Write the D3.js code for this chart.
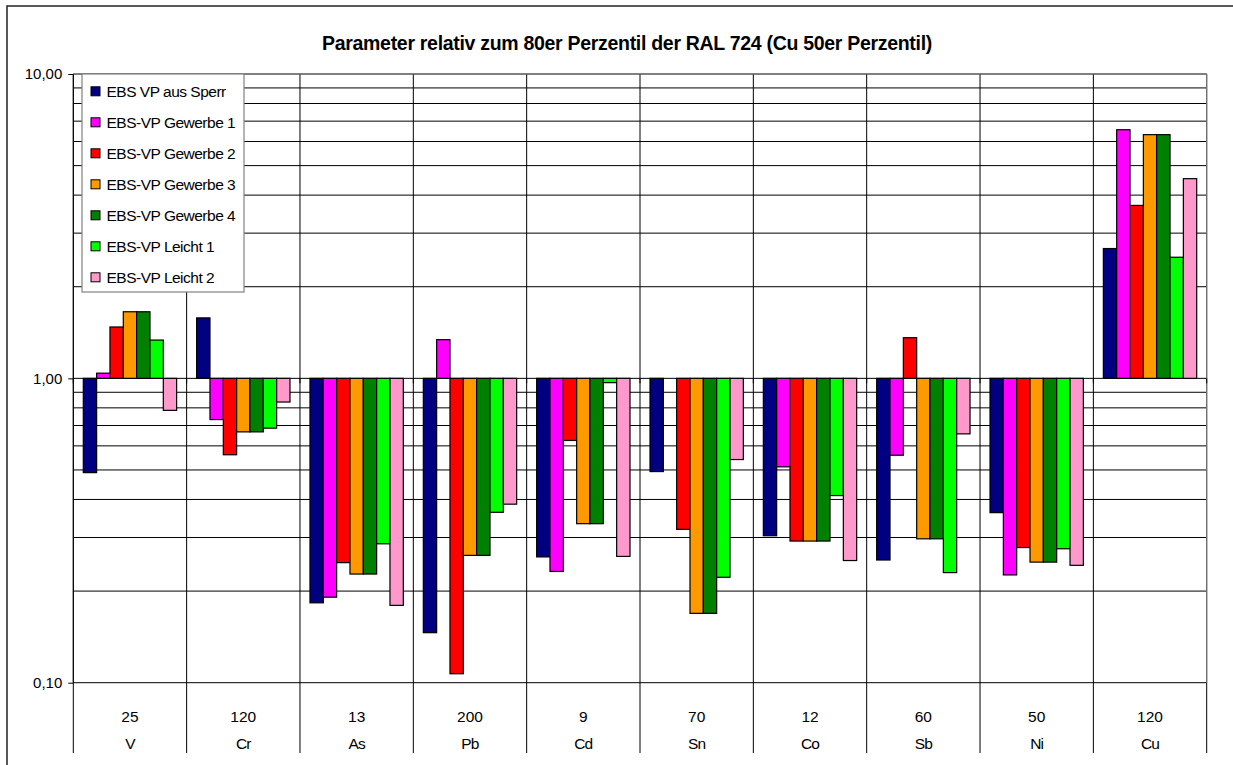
<!DOCTYPE html>
<html>
<head>
<meta charset="utf-8">
<script src="https://cdn.jsdelivr.net/npm/d3@7"></script>
<style>
  html, body { margin: 0; padding: 0; background: #fff; }
  svg { display: block; font-family: "Liberation Sans", Arial, sans-serif; }
</style>
</head>
<body>
<svg id="chart" width="1233" height="765"></svg>
<script>
// Elements and their reference limits (80th percentile, Cu: 50th percentile)
const categories = ["V", "Cr", "As", "Pb", "Cd", "Sn", "Co", "Sb", "Ni", "Cu"];
const limits = ["25", "120", "13", "200", "9", "70", "12", "60", "50", "120"];

const seriesNames = [
  "EBS VP aus Sperr",
  "EBS-VP Gewerbe 1",
  "EBS-VP Gewerbe 2",
  "EBS-VP Gewerbe 3",
  "EBS-VP Gewerbe 4",
  "EBS-VP Leicht 1",
  "EBS-VP Leicht 2"
];
const seriesColors = ["#000080", "#FF00FF", "#FF0000", "#FF9900", "#008000", "#00FF00", "#FF99CC"];

// Ratios of measured value to the reference limit, per element
const ausSperr  = [0.49, 1.58, 0.183, 0.146, 0.259, 0.494, 0.304, 0.253, 0.362, 2.67];
const gewerbe1  = [1.04, 0.732, 0.191, 1.34, 0.232, null, 0.512, 0.559, 0.226, 6.56];
const gewerbe2  = [1.475, 0.561, 0.248, 0.107, 0.625, 0.319, 0.292, 1.36, 0.278, 3.70];
const gewerbe3  = [1.655, 0.667, 0.2275, 0.262, 0.333, 0.169, 0.292, 0.297, 0.249, 6.32];
const gewerbe4  = [1.655, 0.667, 0.2275, 0.262, 0.333, 0.169, 0.292, 0.297, 0.249, 6.32];
const leicht1   = [1.336, 0.686, 0.286, 0.363, 0.968, 0.222, 0.412, 0.230, 0.2755, 2.50];
const leicht2   = [0.785, 0.836, 0.1795, 0.386, 0.26, 0.541, 0.252, 0.657, 0.243, 4.53];

const seriesValues = [ausSperr, gewerbe1, gewerbe2, gewerbe3, gewerbe4, leicht1, leicht2];

const yTickValues = [0.1, 1, 10];
const yTickLabels = ["0,10", "1,00", "10,00"];
const baseline = 1;

const svg = d3.select("#chart");

// Outer chart frame
svg.append("rect")
  .attr("x", 7).attr("y", 6)
  .attr("width", 1300).attr("height", 900)
  .attr("fill", "#fff")
  .attr("stroke", "#222").attr("stroke-width", 1.5);

const plot = { left: 73.3, right: 1206.7, top: 74, bottom: 682.7 };

const x = d3.scaleBand()
  .domain(categories)
  .range([plot.left, plot.right])
  .paddingInner(0).paddingOuter(0);

const xs = d3.scaleBand()
  .domain(d3.range(seriesNames.length))
  .range([0, x.bandwidth()])
  .paddingInner(0).paddingOuter(0.75);

const y = d3.scaleLog()
  .domain([0.1, 10])
  .range([plot.bottom, plot.top]);

// Horizontal gridlines: every integer multiple within each decade
const gridValues = [];
[0.1, 1].forEach(d => { for (let k = 1; k <= 10; k++) gridValues.push(+(d * k).toFixed(3)); });
const gridUnique = Array.from(new Set(gridValues));

svg.append("g")
  .selectAll("line")
  .data(gridUnique)
  .join("line")
  .attr("x1", plot.left).attr("x2", plot.right)
  .attr("y1", d => y(d)).attr("y2", d => y(d))
  .attr("stroke", "#000").attr("stroke-width", 1);

// Category boundaries, running down through the label rows
const boundaries = categories.map(c => x(c)).concat([plot.right]);
svg.append("g")
  .selectAll("line")
  .data(boundaries)
  .join("line")
  .attr("x1", d => d).attr("x2", d => d)
  .attr("y1", plot.top).attr("y2", 753)
  .attr("stroke", "#000").attr("stroke-width", 1);

// Plot border (top and right)
svg.append("path")
  .attr("d", `M${plot.left},${plot.top}H${plot.right}V${plot.bottom}`)
  .attr("fill", "none").attr("stroke", "#808080").attr("stroke-width", 1);

// Bars grow from the baseline of 1
const groups = svg.append("g")
  .selectAll("g")
  .data(seriesValues)
  .join("g")
  .attr("fill", (d, i) => seriesColors[i]);

groups.selectAll("rect")
  .data((vals, si) => vals.map((v, ci) => ({ v, ci, si })).filter(d => d.v != null))
  .join("rect")
  .attr("x", d => x(categories[d.ci]) + xs(d.si))
  .attr("width", xs.bandwidth())
  .attr("y", d => Math.min(y(d.v), y(baseline)))
  .attr("height", d => Math.abs(y(d.v) - y(baseline)))
  .attr("stroke", "#000").attr("stroke-width", 1.2);

// Value axis on the left
const yAxis = d3.axisLeft(y)
  .tickValues(yTickValues)
  .tickFormat((d, i) => yTickLabels[i])
  .tickSize(5)
  .tickPadding(6);

const yAxisG = svg.append("g")
  .attr("transform", `translate(${plot.left},0)`)
  .call(yAxis);
yAxisG.select(".domain").attr("stroke", "#000").attr("d", `M-0,${plot.bottom}V${plot.top}`);
yAxisG.selectAll(".tick line").attr("stroke", "#000");
yAxisG.selectAll(".tick text")
  .attr("font-size", 15)
  .attr("font-family", "'Liberation Sans', Arial, sans-serif")
  .attr("fill", "#000");

// Horizontal axis crossing at 1 with short ticks at the category boundaries
svg.append("g")
  .selectAll("line")
  .data(boundaries)
  .join("line")
  .attr("x1", d => d).attr("x2", d => d)
  .attr("y1", y(baseline)).attr("y2", y(baseline) + 5)
  .attr("stroke", "#000");

// Category label rows: limit value and element
const labelG = svg.append("g")
  .attr("font-size", 15.5)
  .attr("text-anchor", "middle")
  .attr("fill", "#000");

labelG.selectAll("text.limit")
  .data(categories)
  .join("text")
  .attr("class", "limit")
  .attr("x", d => x(d) + x.bandwidth() / 2)
  .attr("y", 722)
  .text((d, i) => limits[i]);

labelG.selectAll("text.elem")
  .data(categories)
  .join("text")
  .attr("class", "elem")
  .attr("x", d => x(d) + x.bandwidth() / 2)
  .attr("y", 748.5)
  .attr("letter-spacing", -0.8)
  .text(d => d);

// Title
svg.append("text")
  .attr("x", 627).attr("y", 50)
  .attr("text-anchor", "middle")
  .attr("font-size", 19.5)
  .attr("font-weight", "bold")
  .attr("letter-spacing", -0.3)
  .text("Parameter relativ zum 80er Perzentil der RAL 724 (Cu 50er Perzentil)");

// Legend
const legend = svg.append("g");
legend.append("rect")
  .attr("x", 82).attr("y", 74)
  .attr("width", 162).attr("height", 218)
  .attr("fill", "#fff")
  .attr("stroke", "#808080").attr("stroke-width", 1.2);

const item = legend.selectAll("g.item")
  .data(seriesNames)
  .join("g")
  .attr("class", "item")
  .attr("transform", (d, i) => `translate(0,${91.3 + i * 31})`);

item.append("rect")
  .attr("x", 91).attr("y", -4.5)
  .attr("width", 9).attr("height", 9)
  .attr("fill", (d, i) => seriesColors[i])
  .attr("stroke", "#000").attr("stroke-width", 1);

item.append("text")
  .attr("x", 106.5).attr("y", 5.5)
  .attr("font-size", 15.5)
  .attr("letter-spacing", -0.5)
  .attr("fill", "#000")
  .text(d => d);
</script>
</body>
</html>
